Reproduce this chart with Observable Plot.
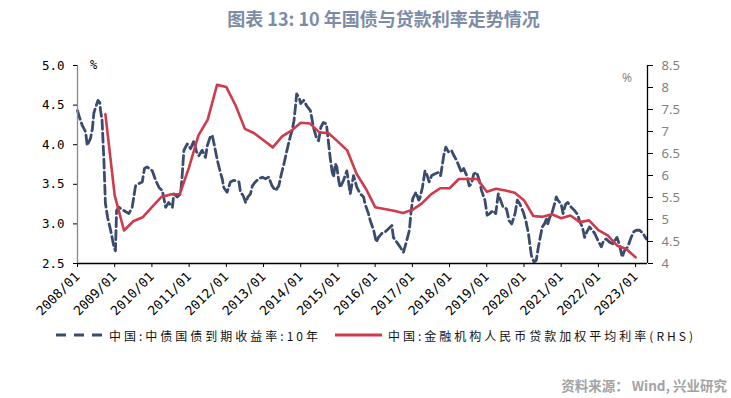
<!DOCTYPE html>
<html><head><meta charset="utf-8">
<script src="https://cdn.jsdelivr.net/npm/d3@7"></script>
<script src="https://cdn.jsdelivr.net/npm/@observablehq/plot@0.6"></script>
<style>
body{margin:0;width:731px;height:398px;background:#fff;position:relative;overflow:hidden;font-family:"Noto Sans CJK SC","Noto Sans",sans-serif;}
#title{position:absolute;top:0;left:18px;width:731px;text-align:center;line-height:36px;font-size:18px;font-weight:bold;color:#7d8ca6;}
#chart{position:absolute;top:38px;left:0;}
.pct{position:absolute;font-size:12px;}
#legend{position:absolute;top:324px;left:56px;height:22px;display:flex;align-items:center;font-size:12px;letter-spacing:3px;color:#111;white-space:nowrap;}
#legend .item{display:flex;align-items:center;}
#source{position:absolute;right:4px;top:375px;font-size:13.5px;font-weight:bold;color:#a3a3a3;}
</style></head>
<body>
<div id="title">图表 13: 10 年国债与贷款利率走势情况</div>
<div id="chart"></div>
<div class="pct" style="left:90px;top:58px;color:#000;font-family:'DejaVu Sans Mono'">%</div>
<div class="pct" style="left:622px;top:69px;color:#888;font-family:'Noto Sans'">%</div>
<div id="legend"></div>
<div id="source">资料来源： Wind, 兴业研究</div>
<script>
// 10Y CGB yield (left axis), decimal year and %
const yieldT = [2008.00,2008.05,2008.13,2008.22,2008.26,2008.35,2008.40,2008.44,2008.48,2008.55,2008.60,2008.62,2008.66,2008.71,2008.75,2008.81,2008.89,2008.98,2009.02,2009.05,2009.11,2009.24,2009.38,2009.47,2009.56,2009.65,2009.74,2009.80,2009.87,2010.01,2010.10,2010.19,2010.28,2010.37,2010.45,2010.55,2010.59,2010.68,2010.77,2010.81,2010.86,2010.95,2011.04,2011.13,2011.20,2011.26,2011.35,2011.44,2011.49,2011.56,2011.62,2011.68,2011.76,2011.84,2011.89,2011.93,2012.02,2012.11,2012.20,2012.34,2012.38,2012.45,2012.52,2012.58,2012.65,2012.70,2012.78,2012.87,2012.97,2013.05,2013.14,2013.23,2013.32,2013.41,2013.48,2013.55,2013.62,2013.68,2013.73,2013.77,2013.82,2013.86,2013.89,2013.95,2014.00,2014.08,2014.16,2014.26,2014.30,2014.34,2014.42,2014.48,2014.54,2014.61,2014.69,2014.75,2014.79,2014.84,2014.88,2014.93,2014.97,2015.02,2015.06,2015.15,2015.24,2015.29,2015.33,2015.42,2015.51,2015.60,2015.69,2015.73,2015.82,2015.87,2015.96,2016.03,2016.09,2016.18,2016.27,2016.36,2016.45,2016.49,2016.58,2016.67,2016.76,2016.85,2016.92,2016.96,2017.01,2017.10,2017.17,2017.20,2017.27,2017.34,2017.40,2017.45,2017.52,2017.60,2017.70,2017.76,2017.81,2017.85,2017.90,2017.97,2018.05,2018.12,2018.19,2018.26,2018.32,2018.38,2018.46,2018.53,2018.59,2018.65,2018.73,2018.80,2018.86,2018.95,2019.01,2019.08,2019.17,2019.24,2019.31,2019.37,2019.44,2019.53,2019.60,2019.67,2019.76,2019.82,2019.89,2019.98,2020.05,2020.12,2020.16,2020.20,2020.27,2020.33,2020.37,2020.42,2020.49,2020.55,2020.60,2020.64,2020.69,2020.76,2020.82,2020.87,2020.91,2021.00,2021.05,2021.12,2021.18,2021.27,2021.36,2021.45,2021.49,2021.57,2021.63,2021.69,2021.76,2021.84,2021.90,2021.99,2022.08,2022.14,2022.21,2022.30,2022.39,2022.50,2022.57,2022.64,2022.70,2022.79,2022.88,2022.95,2023.02,2023.11,2023.20,2023.29];
const yieldV = [4.43,4.35,4.24,4.16,3.99,4.08,4.20,4.40,4.46,4.56,4.53,4.43,4.31,3.80,3.26,3.08,2.92,2.71,2.66,3.17,3.21,3.17,3.13,3.21,3.48,3.51,3.53,3.70,3.72,3.67,3.55,3.46,3.42,3.21,3.27,3.21,3.38,3.34,3.38,3.59,3.93,4.01,3.95,4.05,3.91,3.86,3.93,3.84,3.99,4.09,4.12,3.99,3.80,3.65,3.57,3.46,3.40,3.53,3.55,3.53,3.40,3.36,3.27,3.34,3.38,3.48,3.53,3.57,3.59,3.57,3.59,3.48,3.42,3.48,3.63,3.76,3.91,4.03,4.12,4.18,4.31,4.49,4.64,4.60,4.52,4.56,4.49,4.43,4.33,4.22,4.09,4.05,4.22,4.28,4.26,4.01,3.84,3.67,3.59,3.76,3.72,3.55,3.46,3.55,3.67,3.51,3.38,3.61,3.46,3.38,3.34,3.25,3.13,3.04,2.92,2.77,2.83,2.88,2.90,2.94,2.98,2.83,2.77,2.71,2.64,2.79,2.92,3.13,3.32,3.40,3.30,3.32,3.46,3.67,3.61,3.53,3.61,3.63,3.65,3.61,3.76,3.88,3.97,3.91,3.93,3.86,3.80,3.72,3.65,3.70,3.61,3.48,3.51,3.63,3.65,3.55,3.42,3.30,3.11,3.13,3.17,3.13,3.38,3.30,3.21,3.19,3.04,3.00,3.13,3.30,3.25,3.15,3.04,2.88,2.73,2.60,2.52,2.54,2.66,2.79,2.96,3.00,3.06,3.00,3.08,3.15,3.25,3.34,3.30,3.25,3.13,3.25,3.27,3.21,3.17,3.11,3.04,2.96,2.83,2.90,2.96,2.92,2.88,2.79,2.71,2.79,2.81,2.77,2.75,2.83,2.73,2.58,2.66,2.71,2.83,2.90,2.92,2.92,2.88,2.81];

// Weighted average RMB loan rate (right axis), quarterly
const loanQ = ["2008Q3","2008Q4","2009Q1","2009Q2","2009Q3","2009Q4","2010Q1","2010Q2","2010Q3","2010Q4","2011Q1","2011Q2","2011Q3","2011Q4","2012Q1","2012Q2","2012Q3","2012Q4","2013Q1","2013Q2","2013Q3","2013Q4","2014Q1","2014Q2","2014Q3","2014Q4","2015Q1","2015Q2","2015Q3","2015Q4","2016Q1","2016Q2","2016Q3","2016Q4","2017Q1","2017Q2","2017Q3","2017Q4","2018Q1","2018Q2","2018Q3","2018Q4","2019Q1","2019Q2","2019Q3","2019Q4","2020Q1","2020Q2","2020Q3","2020Q4","2021Q1","2021Q2","2021Q3","2021Q4","2022Q1","2022Q2","2022Q3","2022Q4"];
const loanV = [7.39,5.55,4.75,4.96,5.05,5.28,5.51,5.57,5.58,6.19,6.91,7.27,8.06,8.01,7.59,7.06,6.96,6.80,6.64,6.89,7.02,7.20,7.18,6.98,6.96,6.77,6.57,6.04,5.70,5.28,5.24,5.20,5.15,5.22,5.36,5.57,5.71,5.71,5.92,5.92,5.92,5.63,5.70,5.66,5.61,5.44,5.08,5.06,5.12,5.03,5.09,4.94,4.98,4.76,4.64,4.41,4.33,4.14];

const xYears = [2008,2009,2010,2011,2012,2013,2014,2015,2016,2017,2018,2019,2020,2021,2022,2023];
const leftTicks = [2.5,3.0,3.5,4.0,4.5,5.0];
const rightTicks = [4,4.5,5,5.5,6,6.5,7,7.5,8,8.5];
const xDomain = [2008, 2023.32];
const leftDomain = [2.5, 5.0];
const rightDomain = [4, 8.5];
const seriesNames = ["中国:中债国债到期收益率:10年", "中国:金融机构人民币贷款加权平均利率(RHS)"];
const colors = ["#3b4b6e", "#d03a4d"];

const toLeft = v => leftDomain[0] + (v - rightDomain[0]) / (rightDomain[1] - rightDomain[0]) * (leftDomain[1] - leftDomain[0]);

const yieldData = yieldT.map((t, i) => ({t, v: yieldV[i]}));
const loanData = loanQ.map((q, i) => ({t: +q.slice(0, 4) + (+q.slice(5)) * 0.25, v: loanV[i]}));

const mono = "'DejaVu Sans Mono', monospace";
const chart = Plot.plot({
  width: 731,
  height: 282,
  marginTop: 27,
  marginBottom: 57,
  marginLeft: 77,
  marginRight: 84,
  style: {fontFamily: mono, fontSize: "12px", background: "transparent"},
  x: {type: "linear", domain: xDomain},
  y: {domain: leftDomain},
  marks: [
    Plot.line(yieldData, {x: "t", y: "v", stroke: colors[0], strokeWidth: 2.8, strokeDasharray: "9,4", curve: "linear"}),
    Plot.line(loanData, {x: "t", y: d => toLeft(d.v), stroke: colors[1], strokeWidth: 2.6}),
    Plot.ruleY([leftDomain[0]], {stroke: "#000", strokeWidth: 1.3}),
    Plot.ruleX([xDomain[0]], {stroke: "#888", strokeWidth: 1.3}),
    Plot.ruleX([xDomain[1]], {stroke: "#000", strokeWidth: 1.3}),
    Plot.axisY(leftTicks, {anchor: "left", tickSize: 4, tickPadding: 9, tickFormat: d => d.toFixed(1), fontSize: 12.5, fontFamily: mono, color: "#000", label: null}),
    Plot.axisY(rightTicks.map(toLeft), {anchor: "right", tickSize: 5, tickPadding: 9, tickFormat: (d, i) => String(rightTicks[i]), fontSize: 13, fontFamily: "'Noto Sans', sans-serif", color: "#000", fill: "#808080", label: null}),
    Plot.axisX(xYears, {anchor: "bottom", tickSize: 4, tickPadding: 7, tickRotate: -45, tickFormat: d => d + "/01", fontSize: 13, fontFamily: mono, color: "#000", label: null})
  ]
});
document.getElementById("chart").appendChild(chart);

// legend
const legend = document.getElementById("legend");
const sw = (dash, color, w) => `<svg width="47" height="10" style="margin-right:6px"><line x1="0" x2="47" y1="5" y2="5" stroke="${color}" stroke-width="${w}" ${dash ? `stroke-dasharray="${dash}"` : ""}/></svg>`;
legend.innerHTML =
  `<div class="item">${sw("10,8", colors[0], 3)}<span>${seriesNames[0]}</span></div>` +
  `<div class="item" style="margin-left:14px">${sw(null, colors[1], 3)}<span>${seriesNames[1]}</span></div>`;
</script>
</body></html>
